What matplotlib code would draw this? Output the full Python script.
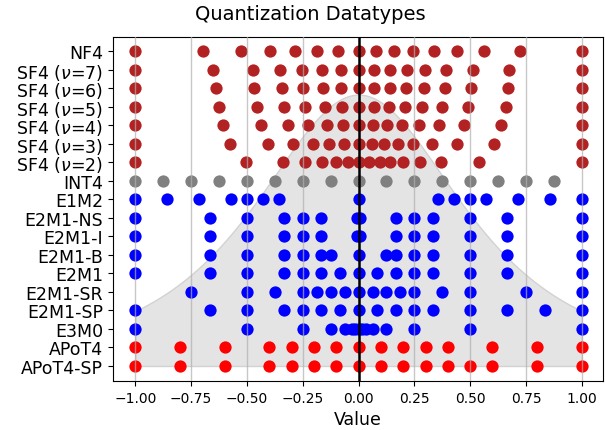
import numpy as np
import matplotlib
matplotlib.use("Agg")
import matplotlib.pyplot as plt

# Category labels (top to bottom)
labels = ["NF4", r"SF4 ($\nu$=7)", r"SF4 ($\nu$=6)", r"SF4 ($\nu$=5)", r"SF4 ($\nu$=4)",
          r"SF4 ($\nu$=3)", r"SF4 ($\nu$=2)", "INT4", "E1M2", "E2M1-NS", "E2M1-I",
          "E2M1-B", "E2M1", "E2M1-SR", "E2M1-SP", "E3M0", "APoT4", "APoT4-SP"]

nf4 = [-1.0, -0.6962, -0.5251, -0.3949, -0.2844, -0.1848, -0.0911, 0.0,
       0.0796, 0.1609, 0.2461, 0.3379, 0.4407, 0.5626, 0.7230, 1.0]
sf4_7 = [-1, -0.650, -0.475, -0.351, -0.253, -0.162, -0.080, 0, 0.070, 0.141, 0.216, 0.299, 0.390, 0.512, 0.675, 1]
sf4_6 = [-1, -0.639, -0.468, -0.345, -0.247, -0.158, -0.078, 0, 0.069, 0.141, 0.211, 0.293, 0.387, 0.503, 0.668, 1]
sf4_5 = [-1, -0.627, -0.455, -0.333, -0.238, -0.151, -0.075, 0, 0.067, 0.136, 0.206, 0.284, 0.375, 0.492, 0.659, 1]
sf4_4 = [-1, -0.609, -0.436, -0.317, -0.225, -0.142, -0.071, 0, 0.064, 0.128, 0.196, 0.271, 0.360, 0.472, 0.638, 1]
sf4_3 = [-1, -0.575, -0.404, -0.292, -0.205, -0.131, -0.064, 0, 0.058, 0.115, 0.176, 0.246, 0.329, 0.439, 0.606, 1]
sf4_2 = [-1, -0.506, -0.339, -0.238, -0.165, -0.102, -0.048, 0, 0.045, 0.094, 0.142, 0.201, 0.275, 0.369, 0.538, 1]
int4 = [-1, -0.875, -0.75, -0.625, -0.5, -0.375, -0.25, -0.125, 0, 0.125, 0.25, 0.375, 0.5, 0.625, 0.75, 0.875]
e1m2 = [-1, -0.857, -0.714, -0.571, -0.5, -0.429, -0.357, 0, 0.357, 0.429, 0.5, 0.571, 0.714, 0.857, 1]
e2m1_ns = [-1, -0.667, -0.5, -0.333, -0.25, -0.167, -0.005, 0.005, 0.167, 0.25, 0.333, 0.5, 0.667, 1]
e2m1_i = [-1, -0.667, -0.5, -0.333, -0.25, -0.167, -0.005, 0.005, 0.167, 0.25, 0.333, 0.5, 0.667, 1]
e2m1_b = [-1, -0.667, -0.5, -0.333, -0.25, -0.167, -0.125, 0, 0.125, 0.167, 0.25, 0.333, 0.5, 0.667, 1]
e2m1 = [-1, -0.667, -0.5, -0.333, -0.25, -0.167, -0.083, 0, 0.083, 0.167, 0.25, 0.333, 0.5, 0.667, 1]
e2m1_sr = [-0.75, -0.5, -0.375, -0.25, -0.1875, -0.125, -0.0625, 0, 0.0625, 0.125, 0.1875, 0.25, 0.375, 0.5, 0.75, 1]
e2m1_sp = [-1, -0.667, -0.5, -0.333, -0.25, -0.167, -0.083, 0, 0.083, 0.167, 0.25, 0.333, 0.5, 0.667, 0.833, 1]
e3m0 = [-1, -0.5, -0.25, -0.125, -0.0625, -0.03125, -0.015625, 0, 0.015625, 0.03125, 0.0625, 0.125, 0.25, 0.5, 1]
apot4 = [-1, -0.8, -0.6, -0.4, -0.3, -0.2, -0.1, 0, 0.1, 0.2, 0.3, 0.4, 0.6, 0.8, 1]
apot4_sp = [-1, -0.8, -0.6, -0.4, -0.3, -0.2, -0.1, 0, 0.1, 0.2, 0.3, 0.4, 0.5, 0.6, 0.8, 1]

series = [nf4, sf4_7, sf4_6, sf4_5, sf4_4, sf4_3, sf4_2, int4, e1m2, e2m1_ns, e2m1_i,
          e2m1_b, e2m1, e2m1_sr, e2m1_sp, e3m0, apot4, apot4_sp]
colors = ["#b22222"] * 7 + ["#808080"] + ["#0000ff"] * 8 + ["#ff0000"] * 2

xticks = [-1.0, -0.75, -0.5, -0.25, 0.0, 0.25, 0.5, 0.75, 1.0]

# background density curve parameters
curve_peak = 14.65
curve_scale2 = 0.263

fig = plt.figure(figsize=(6.05, 4.31), dpi=100)
ax = fig.add_axes([113 / 605, 1 - 382 / 431, (603 - 113) / 605, (382 - 38) / 431])

n = len(labels)
xs = np.linspace(-1, 1, 400)
ys = curve_peak * (1 + xs ** 2 / (2 * curve_scale2)) ** (-1.5)
ax.fill_between(xs, 0, ys, color="#e4e4e4", edgecolor="#d2d2d2", linewidth=1, zorder=0)

for i, (vals, c) in enumerate(zip(series, colors)):
    ypos = n - 1 - i
    ax.scatter(vals, [ypos] * len(vals), s=78, color=c, zorder=2, linewidths=0)

for t in xticks:
    if t != 0:
        ax.axvline(t, color="#b0b0b0", alpha=0.7, linewidth=1.0, zorder=3)
ax.axvline(0, color="black", linewidth=1.8, zorder=4)

ax.set_yticks(range(n))
ax.set_yticklabels(labels[::-1], fontsize=12.5)
ax.set_xticks(xticks)
ax.set_xticklabels([f"{t:.2f}".replace("-", "\u2212") for t in xticks], fontsize=10)
ax.set_xlim(-1.1, 1.095)
ax.set_ylim(-0.81, 17.76)
ax.set_xlabel("Value", fontsize=12.5)
fig.text(310 / 605, 1 - 14 / 431, "Quantization Datatypes", fontsize=14, ha="center", va="center")

fig.savefig("out.png", dpi=100)
